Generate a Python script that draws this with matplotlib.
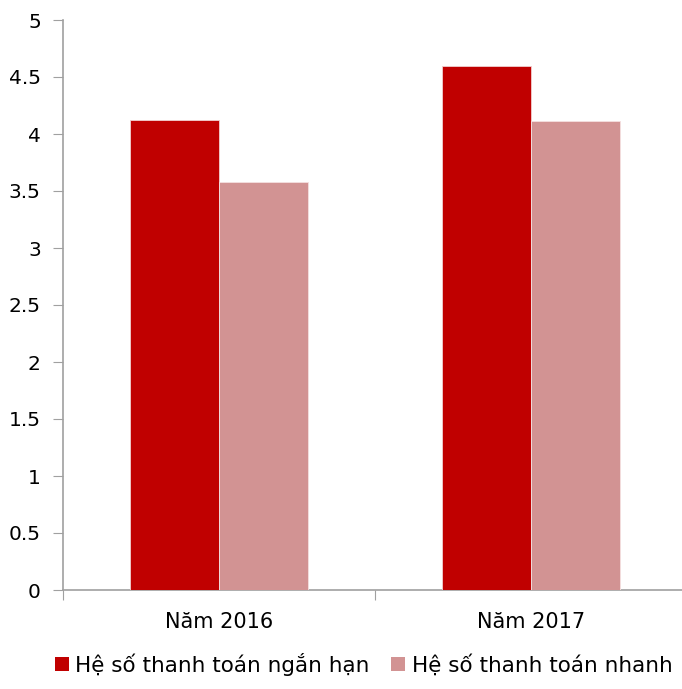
import matplotlib
matplotlib.use("Agg")
import matplotlib.pyplot as plt
from matplotlib.patches import Patch

categories = ["Năm 2016", "Năm 2017"]
series_names = ["Hệ số thanh toán ngắn hạn", "Hệ số thanh toán nhanh"]
short_term = [4.12, 4.60]
quick = [3.58, 4.11]
yticks = [0, 0.5, 1, 1.5, 2, 2.5, 3, 3.5, 4, 4.5, 5]
ytick_labels = ["0", "0.5", "1", "1.5", "2", "2.5", "3", "3.5", "4", "4.5", "5"]

c1 = "#C00000"
c2 = "#D29393"

plt.rcParams['font.family'] = ['DejaVu Sans']
fs = 14.5
fig = plt.figure(figsize=(6.82, 6.89), dpi=100)
ax = fig.add_axes([63/682, 99/689, 624/682, 570/689])

x = list(range(len(categories)))
w = 0.285
ax.bar([i - w/2 for i in x], short_term, width=w, color=c1, edgecolor="#F2D0D0", linewidth=0.6, zorder=3)
ax.bar([i + w/2 for i in x], quick, width=w, color=c2, edgecolor="#F5E0E0", linewidth=0.6, zorder=3)

ax.set_xlim(-0.5, 1.5)
ax.set_ylim(0, 5)
ax.set_yticks(yticks)
ax.set_yticklabels(ytick_labels, fontsize=fs)
ax.set_xticks([-0.5, 0.5, 1.5])
ax.set_xticklabels([])
ax.set_xticks(x, minor=True)
ax.set_xticklabels(categories, minor=True, fontsize=15)
ax.tick_params(axis='x', which='major', length=7, color="#A0A0A0", direction='out')
ax.tick_params(axis='x', which='minor', length=0, pad=16)
ax.tick_params(axis='y', length=7, color="#A0A0A0", direction='out', pad=9)

for s in ["top", "right"]:
    ax.spines[s].set_visible(False)
for s in ["left", "bottom"]:
    ax.spines[s].set_color("#A0A0A0")
    ax.spines[s].set_linewidth(1.2)

handles = [Patch(facecolor=c1, label=series_names[0]), Patch(facecolor=c2, label=series_names[1])]
fig.legend(handles=handles, loc="center", bbox_to_anchor=(0.533, 25/689), ncol=2, frameon=False,
           fontsize=15.5, handlelength=0.65, handleheight=0.65, handletextpad=0.3, columnspacing=1.0)

fig.savefig("out.png", dpi=100)
